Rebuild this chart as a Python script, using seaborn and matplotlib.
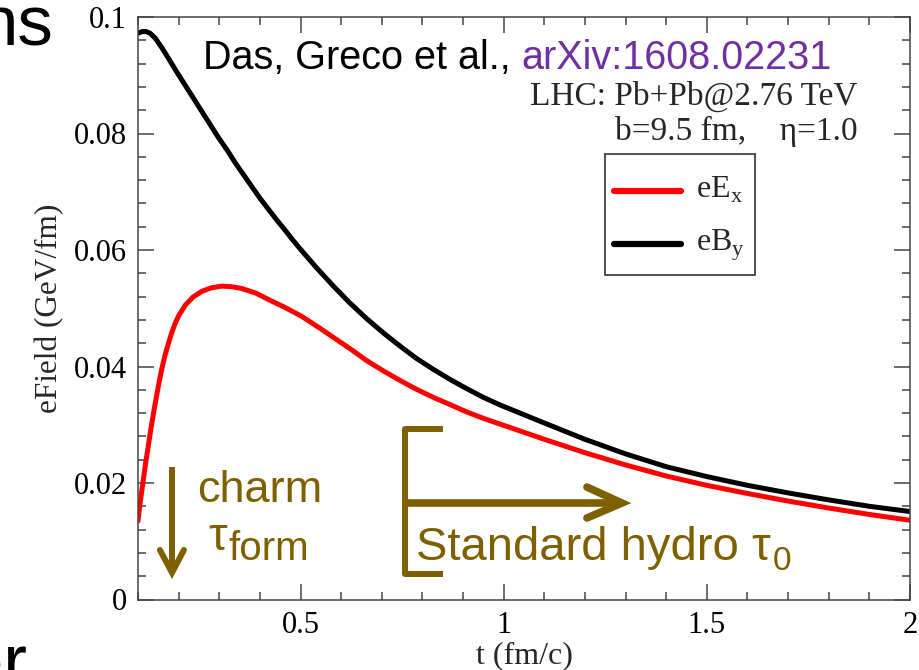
import matplotlib
matplotlib.use("Agg")
import numpy as np
import matplotlib.pyplot as plt
import pandas as pd
import seaborn as sns
from matplotlib.lines import Line2D
from matplotlib.legend_handler import HandlerLine2D
from matplotlib.ticker import MultipleLocator, FixedLocator, FixedFormatter

# Electric field eE_x (GeV/fm) versus time t (fm/c)
t_ex = [0.100, 0.106, 0.113, 0.119, 0.125, 0.131, 0.138, 0.144, 0.150, 0.158,
        0.166, 0.175, 0.183, 0.192, 0.200, 0.216, 0.235, 0.257, 0.280, 0.306,
        0.330, 0.355, 0.390, 0.421, 0.460, 0.503, 0.545, 0.585, 0.625, 0.663,
        0.705, 0.745, 0.785, 0.827, 0.870, 0.909, 0.950, 1.000, 1.100, 1.200,
        1.300, 1.400, 1.500, 1.600, 1.700, 1.800, 1.900, 2.000]
eEx = [0.0135, 0.0170, 0.0205, 0.0235, 0.0262, 0.0290, 0.0319, 0.0343, 0.0366, 0.0394,
       0.0418, 0.0440, 0.0458, 0.0475, 0.0487, 0.0505, 0.0519, 0.0529, 0.0535, 0.0538,
       0.0537, 0.0534, 0.0526, 0.0515, 0.0502, 0.0486, 0.0467, 0.0448, 0.0429, 0.0410,
       0.0392, 0.0376, 0.0361, 0.0347, 0.0334, 0.0322, 0.0311, 0.0299, 0.0275, 0.0252,
       0.0231, 0.0212, 0.0196, 0.0182, 0.0169, 0.0157, 0.0146, 0.0136]

# Magnetic field eB_y (GeV/fm) versus time t (fm/c)
t_by = [0.100, 0.110, 0.120, 0.130, 0.142, 0.158, 0.175, 0.195, 0.216, 0.237,
        0.257, 0.278, 0.298, 0.320, 0.339, 0.360, 0.380, 0.400, 0.421, 0.441,
        0.462, 0.480, 0.499, 0.540, 0.581, 0.620, 0.663, 0.705, 0.745, 0.785,
        0.827, 0.870, 0.909, 0.950, 0.991, 1.100, 1.200, 1.300, 1.400, 1.500,
        1.600, 1.700, 1.800, 1.900, 2.000]
eBy = [0.0972, 0.0975, 0.0975, 0.0972, 0.0964, 0.0948, 0.0929, 0.0906, 0.0883, 0.0860,
       0.0838, 0.0815, 0.0793, 0.0771, 0.0750, 0.0729, 0.0709, 0.0689, 0.0670, 0.0652,
       0.0634, 0.0618, 0.0602, 0.0569, 0.0538, 0.0510, 0.0482, 0.0457, 0.0435, 0.0414,
       0.0395, 0.0377, 0.0362, 0.0347, 0.0334, 0.0303, 0.0275, 0.0250, 0.0228, 0.0211,
       0.0196, 0.0183, 0.0171, 0.0160, 0.0151]

labels = [r"eE$_\mathregular{x}$", r"eB$_\mathregular{y}$"]
colors = ["#ff0000", "#000000"]

x_ticks = [0.5, 1.0, 1.5, 2.0]
x_tick_labels = ["0.5", "1", "1.5", "2"]
y_ticks = [0.0, 0.02, 0.04, 0.06, 0.08, 0.1]
y_tick_labels = ["0", "0.02", "0.04", "0.06", "0.08", "0.1"]

df = pd.concat([
    pd.DataFrame({"t": t_ex, "field": eEx, "comp": labels[0]}),
    pd.DataFrame({"t": t_by, "field": eBy, "comp": labels[1]}),
], ignore_index=True)


class LoweredLineHandler(HandlerLine2D):
    """Legend line sample drawn a little below the middle of its row."""

    def __init__(self, drop_pt, **kwargs):
        super().__init__(**kwargs)
        self._drop = drop_pt

    def create_artists(self, legend, orig_handle, xdescent, ydescent, width,
                       height, fontsize, trans):
        artists = super().create_artists(legend, orig_handle, xdescent, ydescent,
                                         width, height, fontsize, trans)
        for a in artists:
            if isinstance(a, Line2D):
                a.set_ydata(np.asarray(a.get_ydata(), dtype=float) - self._drop)
        return artists


sns.set_style("ticks")
plt.rcParams["font.family"] = ["Liberation Serif", "DejaVu Serif"]
plt.rcParams["mathtext.fontset"] = "custom"
plt.rcParams["mathtext.rm"] = "Liberation Serif"

SANS = ["Liberation Sans", "DejaVu Sans"]
BROWN = "#7f6000"
PURPLE = "#7030a0"

fig = plt.figure(figsize=(9.19, 6.70), dpi=100)
ax = fig.add_axes([138 / 919, 1 - 599.5 / 670, 772 / 919, 582.5 / 670])

sns.lineplot(data=df, x="t", y="field", hue="comp", hue_order=labels,
             palette=dict(zip(labels, colors)), estimator=None, sort=True,
             linewidth=3.6, ax=ax)
for ln in ax.get_lines():
    ln.set_solid_joinstyle("round")

ax.set_xlim(0.1, 2.0)
ax.set_ylim(0.0, 0.1)
ax.xaxis.set_major_locator(FixedLocator(x_ticks))
ax.xaxis.set_major_formatter(FixedFormatter(x_tick_labels))
ax.xaxis.set_minor_locator(MultipleLocator(0.1))
ax.yaxis.set_major_locator(FixedLocator(y_ticks))
ax.yaxis.set_major_formatter(FixedFormatter(y_tick_labels))
ax.yaxis.set_minor_locator(MultipleLocator(0.004))

ax.tick_params(which="both", direction="in", top=True, right=True,
               color="#444444", width=1.1, labelsize=22, labelcolor="black")
ax.tick_params(which="major", length=11.5, pad=8)
ax.tick_params(which="minor", length=5.8)
for s in ax.spines.values():
    s.set_color("#444444")
    s.set_linewidth(1.1)

ax.set_xlabel("t (fm/c)", fontsize=23, labelpad=1)
ax.set_ylabel("eField (GeV/fm)", fontsize=22.5, labelpad=7)

leg = ax.legend(loc="upper right", bbox_to_anchor=(0.7992, 0.7648), fontsize=23,
                frameon=True, fancybox=False, framealpha=1, edgecolor="#333333",
                handlelength=2.1, handleheight=1.95, handletextpad=0.47,
                labelspacing=0.15, borderpad=0.3, borderaxespad=0,
                handler_map={Line2D: LoweredLineHandler(7.5)})
leg.get_frame().set_linewidth(1.2)
for ln in leg.get_lines():
    ln.set_linewidth(4.5)

# Reference and collision setup
t1 = ax.text(0.26, 0.0910, "Das, Greco et al., ", family=SANS, fontsize=28.5,
             color="black", va="baseline", ha="left")
ax.annotate("arXiv:1608.02231", xy=(1, 0), xycoords=t1, va="bottom", ha="left",
            family=SANS, fontsize=28.5, color=PURPLE)
ax.text(1.872, 0.0849, "LHC: Pb+Pb@2.76 TeV", fontsize=24, ha="right", va="baseline")
ax.text(1.872, 0.0789, r"b=9.5 fm,    η=1.0", fontsize=24, ha="right", va="baseline")

# Charm formation time marker
ax.plot([0.1837, 0.1837], [0.0227, 0.0050], color=BROWN, lw=4.3,
        solid_capstyle="butt")
ax.plot([0.154, 0.1837, 0.213], [0.0085, 0.0046, 0.0085], color=BROWN, lw=4.3,
        solid_capstyle="round", solid_joinstyle="miter")
ax.text(0.245, 0.0167, "charm", family=SANS, fontsize=32.5, color=BROWN,
        va="baseline", ha="left")
tau = ax.text(0.273, 0.0085, "τ", family=SANS, fontsize=34, color=BROWN,
              va="baseline", ha="left")
ax.annotate("form", xy=(1, 0), xycoords=tau, xytext=(1, -6),
            textcoords="offset points", family=SANS, fontsize=29, color=BROWN,
            va="bottom", ha="left")

# Standard hydro starting time marker
ax.plot([0.8506, 0.757, 0.757, 0.8506], [0.0293, 0.0293, 0.0044, 0.0044],
        color=BROWN, lw=4.3, solid_capstyle="butt", solid_joinstyle="round")
ax.plot([0.757, 1.285], [0.01656, 0.01656], color=BROWN, lw=5.5,
        solid_capstyle="butt")
ax.plot([1.205, 1.291, 1.205], [0.0193, 0.01656, 0.0140], color=BROWN, lw=5.5,
        solid_capstyle="round", solid_joinstyle="miter")
hydro = ax.text(0.785, 0.0068, "Standard hydro τ", family=SANS, fontsize=34,
                color=BROWN, va="baseline", ha="left")
ax.annotate("0", xy=(1, 0), xycoords=hydro, xytext=(1, -5),
            textcoords="offset points", family=SANS, fontsize=24, color=BROWN,
            va="bottom", ha="left")

# Slide text fragments at the left edge
fig.text(53 / 919, 1 - 45 / 670, "ns", family=SANS, fontsize=51, color="black",
         ha="right", va="baseline")
fig.text(27 / 919, 1 - 684 / 670, "er", family=SANS, fontsize=51, color="black",
         ha="right", va="baseline")

fig.savefig("out.png", dpi=100)
